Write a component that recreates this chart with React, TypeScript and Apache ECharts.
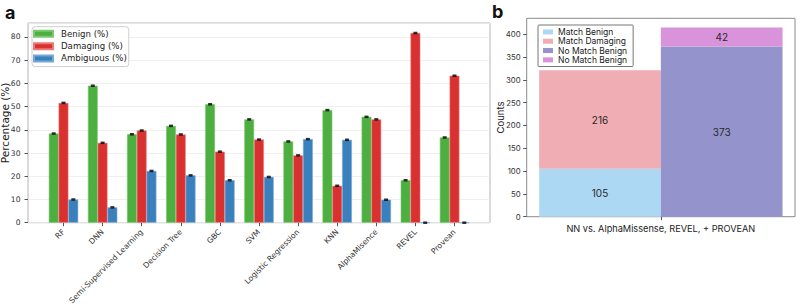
import React, { useEffect, useRef } from "react";
import * as echarts from "echarts";

const models = [
  "RF",
  "DNN",
  "Semi-Supervised Learning",
  "Decision Tree",
  "GBC",
  "SVM",
  "Logistic Regression",
  "KNN",
  "AlphaMisence",
  "REVEL",
  "Provean",
];
const benign = [38.4, 59.0, 38.1, 41.7, 51.0, 44.5, 35.0, 48.5, 45.6, 18.3, 36.7];
const damaging = [51.6, 34.4, 39.7, 38.0, 30.6, 35.8, 29.0, 15.9, 44.5, 81.7, 63.3];
const ambiguous = [10.0, 6.6, 22.3, 20.4, 18.3, 19.7, 36.0, 35.7, 9.9, 0, 0];

const compCategory = ["NN vs. AlphaMissense, REVEL, + PROVEAN"];
const matchBenign = [105];
const matchDamaging = [216];
const noMatchBenign = [373];
const noMatchBenign2 = [42];

const FA = "DejaVu Sans";
const FB = "Inter";

export default function App() {
  const ref = useRef<HTMLDivElement>(null);
  useEffect(() => {
    document.body.style.margin = "0";
    const chart = echarts.init(ref.current!, null, { renderer: "svg" });
    const bw = 9.8;
    const errSeries = (data: number[], off: number) => ({
      type: "scatter",
      xAxisIndex: 1,
      yAxisIndex: 1,
      data,
      symbol: "rect",
      symbolSize: [4, 2.5],
      symbolOffset: [off, 0],
      itemStyle: { color: "#000" },
      silent: true,
      z: 5,
    });
    const barA = (name: string, data: number[], color: string, border: string) => ({
      name,
      type: "bar",
      xAxisIndex: 1,
      yAxisIndex: 1,
      data,
      barWidth: bw,
      barGap: "0%",
      itemStyle: { color, borderColor: border, borderWidth: 0.6 },
    });
    const barB = (name: string, data: number[], color: string, stack: string) => ({
      name,
      type: "bar",
      xAxisIndex: 2,
      yAxisIndex: 2,
      stack,
      data,
      barWidth: 121.7,
      barGap: "0%",
      itemStyle: { color },
      label: {
        show: true,
        position: "inside",
        color: "#2a2a2a",
        fontSize: 10,
        fontFamily: FB,
      },
    });
    chart.setOption({
      animation: false,
      backgroundColor: "#fff",
      grid: [
        { left: 28, top: 23, width: 462, height: 199.7, show: true, borderColor: "#b4b4b4", borderWidth: 1, backgroundColor: "transparent", outerBoundsMode: "none", containLabel: false },
        { left: 43.95, top: 23, width: 430.1, height: 199.7, outerBoundsMode: "none", containLabel: false },
        { left: 526.7, top: 18.3, width: 268.3, height: 198.4, show: true, borderColor: "#8a8a8a", borderWidth: 1, backgroundColor: "transparent", outerBoundsMode: "none", containLabel: false },
      ],
      xAxis: [
        { type: "value", gridIndex: 0, show: false, min: 0, max: 1 },
        {
          type: "category",
          gridIndex: 1,
          data: models,
          axisLine: { show: false },
          axisTick: { show: true, alignWithLabel: true, length: 3.5, lineStyle: { color: "#555" } },
          axisLabel: { rotate: 45, fontSize: 7.7, fontFamily: FA, color: "#333", margin: 8, interval: 0, hideOverlap: false },
        },
        {
          type: "category",
          gridIndex: 2,
          data: compCategory,
          axisLine: { show: false },
          axisTick: { show: true, alignWithLabel: true, length: 3.5, lineStyle: { color: "#555" } },
          axisLabel: { fontSize: 9.2, fontFamily: FB, color: "#222", margin: 7 },
        },
      ],
      yAxis: [
        {
          type: "value",
          gridIndex: 0,
          min: 0,
          max: 86,
          interval: 10,
          axisLine: { show: false },
          axisTick: { show: true, length: 3.5, lineStyle: { color: "#555" } },
          axisLabel: { fontSize: 7.6, fontFamily: FA, color: "#333", margin: 7.5, showMaxLabel: false },
          splitLine: { show: true, lineStyle: { color: "#ebebeb", width: 0.8 } },
          name: "Percentage (%)",
          nameLocation: "middle",
          nameGap: 17.5,
          nameMoveOverlap: false,
          nameTextStyle: { fontSize: 10.5, fontFamily: FA, color: "#222" },
        },
        { type: "value", gridIndex: 1, min: 0, max: 86, show: false },
        {
          type: "value",
          gridIndex: 2,
          min: 0,
          max: 435,
          interval: 50,
          axisLine: { show: false },
          axisTick: { show: true, length: 3.5, lineStyle: { color: "#555" } },
          axisLabel: { fontSize: 7.8, fontFamily: FB, color: "#333", margin: 6, showMaxLabel: false },
          splitLine: { show: false },
          name: "Counts",
          nameLocation: "middle",
          nameGap: 21.5,
          nameMoveOverlap: false,
          nameTextStyle: { fontSize: 9.5, fontFamily: FB, color: "#222" },
        },
      ],
      legend: [
        {
          data: ["Benign (%)", "Damaging (%)", "Ambiguous (%)"],
          orient: "vertical",
          left: 32,
          top: 26.7,
          itemWidth: 19,
          itemHeight: 6,
          itemGap: 0,
          icon: "rect",
          padding: [1, 2, 2, 1],
          borderColor: "#cfcfcf",
          borderWidth: 1,
          borderRadius: 3,
          backgroundColor: "rgba(255,255,255,0.85)",
          textStyle: { fontSize: 8.6, fontFamily: FA, color: "#222", lineHeight: 12.3, padding: [0, 0, 0, 3] },
        },
        {
          data: ["Match Benign", "Match Damaging", "No Match Benign", "No Match Benign 2"],
          orient: "vertical",
          left: 538,
          top: 25,
          itemWidth: 10,
          itemHeight: 5,
          itemGap: 0,
          icon: "rect",
          padding: [2.3, 6, 2, 5],
          borderColor: "#777",
          borderWidth: 1,
          borderRadius: 1,
          backgroundColor: "rgba(255,255,255,0.9)",
          formatter: (n: string) => n.replace(/ 2$/, ""),
          textStyle: { fontSize: 8.5, fontFamily: FB, color: "#222", lineHeight: 9.3 },
        },
      ],
      graphic: [
        { type: "text", left: 5, top: 3, style: { text: "a", fontSize: 18, fontWeight: "bold", fontFamily: FB, fill: "#111" } },
        { type: "text", left: 492, top: 2, style: { text: "b", fontSize: 18, fontWeight: "bold", fontFamily: FB, fill: "#111" } },
      ],
      series: [
        barA("Benign (%)", benign, "#4caf3f", "#7cc872"),
        barA("Damaging (%)", damaging, "#d93030", "#ea7a7a"),
        barA("Ambiguous (%)", ambiguous, "#3a80bd", "#78a8d4"),
        errSeries(benign, -bw),
        errSeries(damaging, 0),
        errSeries(ambiguous, bw),
        barB("Match Benign", matchBenign, "#acd8f4", "L"),
        barB("Match Damaging", matchDamaging, "#f0adb3", "L"),
        barB("No Match Benign", noMatchBenign, "#9593cc", "R"),
        barB("No Match Benign 2", noMatchBenign2, "#d993da", "R"),
      ],
    });
    return () => chart.dispose();
  }, []);
  return <div ref={ref} style={{ width: 800, height: 306 }} />;
}
